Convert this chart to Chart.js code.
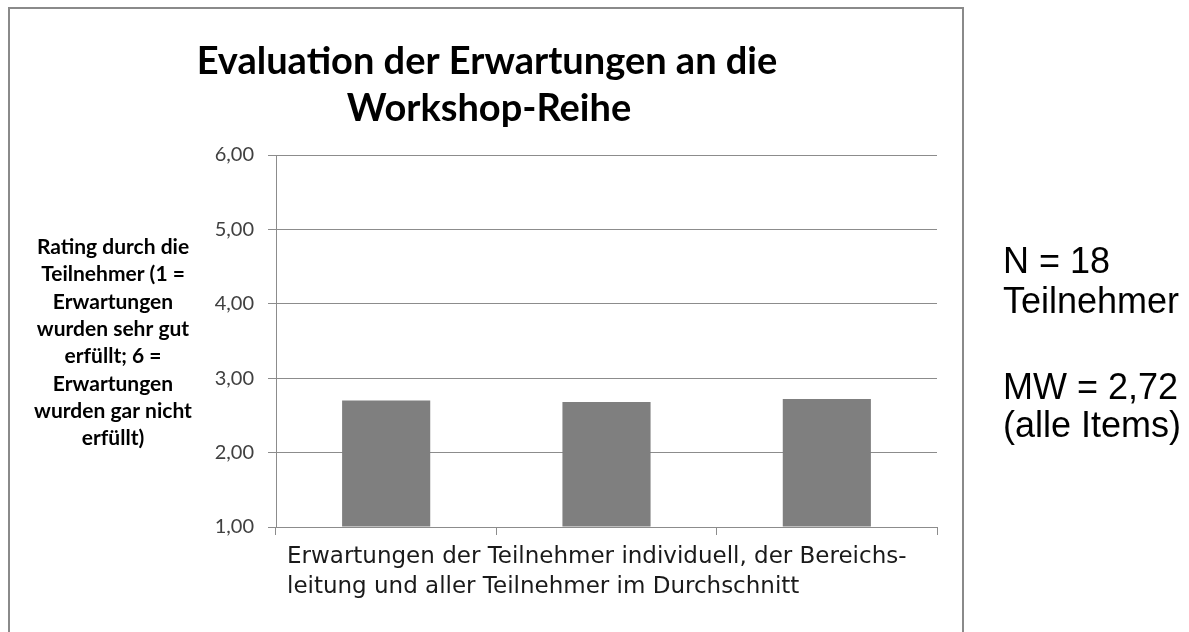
<!DOCTYPE html>
<html>
<head>
<meta charset="utf-8">
<script src="https://cdn.jsdelivr.net/npm/chart.js@4.4.0/dist/chart.umd.min.js"></script>
<style>
  html, body { margin: 0; padding: 0; background: #ffffff; }
  #wrap { position: relative; width: 1189px; height: 632px; }
</style>
</head>
<body>
<div id="wrap"><canvas id="c" width="1189" height="632"></canvas></div>
<script>
// Categories and mean ratings (1 = sehr gut erfüllt, 6 = gar nicht erfüllt)
const categories = ['Teilnehmer individuell', 'Bereichsleitung', 'Alle Teilnehmer im Durchschnitt'];
const ratings = [2.70, 2.68, 2.72];
const yTicks = [1, 2, 3, 4, 5, 6];

const titleLines = ['Evaluation der Erwartungen an die', 'Workshop-Reihe'];
const yTitleLines = ['Rating durch die', 'Teilnehmer (1 =', 'Erwartungen', 'wurden sehr gut',
                     'erfüllt; 6 =', 'Erwartungen', 'wurden gar nicht', 'erfüllt)'];
const xTitleLines = ['Erwartungen der Teilnehmer individuell, der Bereichs-',
                     'leitung und aller Teilnehmer im Durchschnitt'];
const noteLines = ['N = 18', 'Teilnehmer', 'MW = 2,72', '(alle Items)'];

const GRID = '#8c8c8c';

const decor = {
  id: 'decor',
  beforeDraw(chart) {
    const ctx = chart.ctx;
    ctx.save();
    ctx.fillStyle = '#ffffff';
    ctx.fillRect(0, 0, chart.width, chart.height);
    // chart frame
    ctx.strokeStyle = '#8a8a8a';
    ctx.lineWidth = 2;
    ctx.strokeRect(9, 8, 954, 640);
    ctx.restore();
  },
  afterDraw(chart) {
    const ctx = chart.ctx;
    const area = chart.chartArea;
    ctx.save();
    // title
    ctx.fillStyle = '#000000';
    ctx.textAlign = 'center';
    ctx.textBaseline = 'alphabetic';
    ctx.font = 'bold 38px Lato';
    ctx.fillText(titleLines[0], 487, 74);
    ctx.fillText(titleLines[1], 489, 121);

    // y axis title, horizontal and centred
    ctx.font = 'bold 21px Lato';
    yTitleLines.forEach((t, i) => ctx.fillText(t, 113, 254 + i * 27.3));

    // x axis title, left aligned under the plot
    ctx.textAlign = 'left';
    ctx.fillStyle = '#1a1a1a';
    ctx.font = '23px "DejaVu Sans"';
    xTitleLines.forEach((t, i) => ctx.fillText(t, area.left + 11, area.bottom + 36 + i * 30));

    // side notes
    ctx.fillStyle = '#000000';
    ctx.font = '36px "Liberation Sans"';
    [273, 313, 399, 437].forEach((y, i) => ctx.fillText(noteLines[i], 1003, y));
    ctx.restore();
  }
};

new Chart(document.getElementById('c'), {
  type: 'bar',
  data: {
    labels: categories,
    datasets: [{
      data: ratings,
      base: 1,
      backgroundColor: '#7f7f7f',
      borderWidth: 0,
      barPercentage: 0.4,
      categoryPercentage: 1.0
    }]
  },
  options: {
    responsive: false,
    animation: false,
    devicePixelRatio: 1,
    layout: { padding: { left: 0, right: 252, top: 155, bottom: 0 } },
    plugins: { legend: { display: false }, tooltip: { enabled: false }, title: { display: false } },
    scales: {
      x: {
        afterFit(scale) { scale.height = 105; },
        grid: { display: true, offset: true, drawOnChartArea: false, drawTicks: true, tickLength: 8, color: GRID },
        border: { display: true, color: GRID, width: 1 },
        ticks: { display: false }
      },
      y: {
        min: 1, max: 6,
        afterFit(scale) { scale.width = 276; },
        afterBuildTicks(scale) { scale.ticks = yTicks.map(v => ({ value: v })); },
        grid: { display: true, color: GRID, lineWidth: 1, drawTicks: true, tickLength: 8 },
        border: { display: true, color: GRID, width: 1 },
        ticks: {
          padding: 14,
          color: '#404040',
          font: { family: 'Lato', size: 20 },
          callback: v => v.toFixed(2).replace('.', ',')
        }
      }
    }
  },
  plugins: [decor]
});
</script>
</body>
</html>
